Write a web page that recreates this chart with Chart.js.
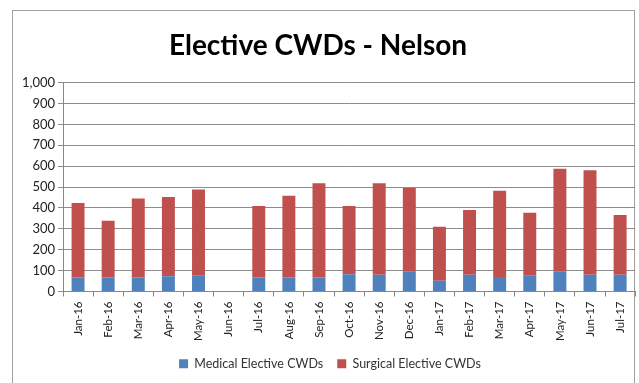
<!DOCTYPE html>
<html>
<head>
<meta charset="utf-8">
<script src="https://cdn.jsdelivr.net/npm/chart.js@4"></script>
<style>
  html, body { margin: 0; padding: 0; background: #fff; overflow: hidden; }
  #wrap { position: absolute; left: 0; top: 0; width: 639px; height: 383px; }
  #frame { position: absolute; left: 12px; top: 10px; width: 623px; height: 400px;
           border: 1px solid #a0a0a0; box-sizing: border-box; }
</style>
</head>
<body>
<div id="frame"></div>
<div id="wrap"><canvas id="cwds" width="639" height="383"></canvas></div>
<script>
const months = ["Jan-16", "Feb-16", "Mar-16", "Apr-16", "May-16", "Jun-16", "Jul-16", "Aug-16",
  "Sep-16", "Oct-16", "Nov-16", "Dec-16", "Jan-17", "Feb-17", "Mar-17", "Apr-17",
  "May-17", "Jun-17", "Jul-17"];
const medical = [67, 67, 67, 73, 75, 0, 67, 67, 67, 83, 80, 94, 51, 80, 69, 75, 94, 80, 80];
const surgical = [357, 272, 378, 379, 413, 0, 342, 391, 451, 326, 438, 402, 259, 310, 413, 302, 494, 500, 286];

const font = "Lato, 'Open Sans', sans-serif";

// nudge the legend a little right, like the original
const legendShift = {
  id: "legendShift",
  afterLayout(chart) {
    const lg = chart.legend;
    lg.left += 12;
    lg.right += 12;
  }
};

const config = {
  type: "bar",
  data: {
    labels: months,
    datasets: [{
      label: "Medical Elective CWDs",
      data: medical,
      backgroundColor: "#4f81bd",
      barPercentage: 0.43,
      categoryPercentage: 1
    }, {
      label: "Surgical Elective CWDs",
      data: surgical,
      backgroundColor: "#c0504d",
      barPercentage: 0.43,
      categoryPercentage: 1
    }]
  },
  plugins: [legendShift],
  options: {
    responsive: false,
    animation: false,
    layout: { padding: { left: 0, right: 3, top: 29, bottom: 3 } },
    plugins: {
      title: {
        display: true,
        text: "Elective CWDs - Nelson",
        color: "#000",
        font: { family: font, size: 28, weight: "bold" },
        padding: { top: 0, bottom: 20 }
      },
      legend: {
        position: "bottom",
        labels: {
          color: "#333",
          font: { family: font, size: 12.5 },
          boxWidth: 9,
          boxHeight: 9,
          padding: 14
        }
      },
      tooltip: { enabled: false }
    },
    scales: {
      x: {
        stacked: true,
        grid: { drawOnChartArea: false, tickLength: 5, color: "#888" },
        border: { color: "#888" },
        afterFit: (s) => { s.height = 52; },
        ticks: {
          color: "#222",
          font: { family: font, size: 11.5 },
          minRotation: 90,
          maxRotation: 90,
          padding: 5
        }
      },
      y: {
        stacked: true,
        min: 0,
        max: 1000,
        grid: { color: "#8c8c8c", tickLength: 5 },
        border: { color: "#888" },
        afterFit: (s) => { s.width = 63; },
        ticks: {
          stepSize: 100,
          color: "#222",
          font: { family: font, size: 13 },
          padding: 3,
          callback: (v) => v.toLocaleString("en-US")
        }
      }
    }
  }
};

new Chart(document.getElementById("cwds"), config);
</script>
</body>
</html>
